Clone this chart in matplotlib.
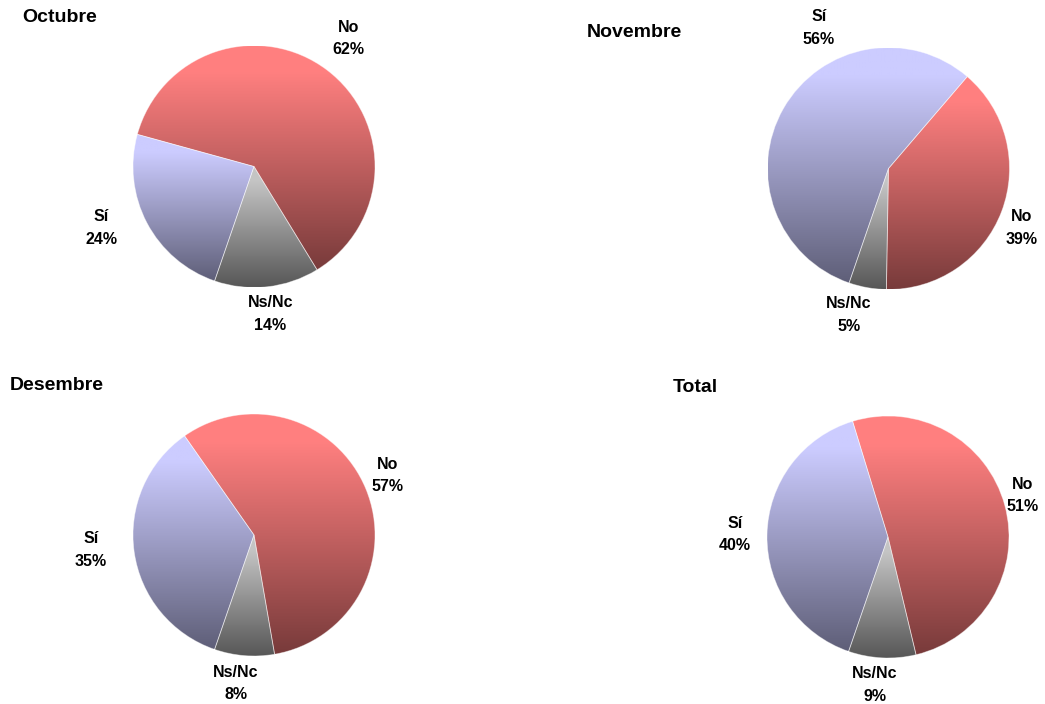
import numpy as np
import matplotlib
matplotlib.use('Agg')
import matplotlib.pyplot as plt

plt.rcParams['font.family'] = ['Liberation Sans', 'DejaVu Sans']

# ---- data ----
titles = ['Octubre', 'Novembre', 'Desembre', 'Total']
categories = ['Ns/Nc', 'No', 'Sí']
ns_nc = [14, 5, 8, 9]
no = [62, 39, 57, 51]
si = [24, 56, 35, 40]

# ---- styling / layout ----
W, H = 1045, 704
R = 121
centers = [(254, 166.5), (888.5, 168.5), (254, 535), (888, 537)]
title_pos = [(22, 17), (587, 32.5), (10, 385), (673, 388)]
# label centre positions (pixels) in category order Ns/Nc, No, Sí
label_pos = [
    [(270.5, 314), (348.5, 38.5), (101, 228)],
    [(849, 315), (1021.5, 228), (819, 28)],
    [(236, 683.5), (388, 475.5), (91, 550)],
    [(875, 685), (1023, 495.5), (735, 534.5)],
]
light = {'Ns/Nc': (0.77, 0.77, 0.77), 'No': (1.0, 0.50, 0.50), 'Sí': (0.80, 0.80, 1.0)}
dark = {'Ns/Nc': (0.34, 0.34, 0.34), 'No': (0.47, 0.23, 0.23), 'Sí': (0.37, 0.37, 0.47)}

fig = plt.figure(figsize=(W / 100, H / 100), dpi=100)
fig.patch.set_facecolor('white')

s = np.linspace(0, 1, 256)
t = np.clip((s - 0.12) / 0.88, 0, 1)[:, None, None]

for i, title in enumerate(titles):
    cx, cy = centers[i]
    ax = fig.add_axes([(cx - R) / W, 1 - (cy + R) / H, 2 * R / W, 2 * R / H])
    vals = [ns_nc[i], no[i], si[i]]
    wedges, _ = ax.pie(vals, startangle=251, counterclock=True, radius=1,
                       wedgeprops=dict(facecolor='none', edgecolor=(1, 1, 1, 0.45),
                                       linewidth=0.6, zorder=3))
    for w, cat in zip(wedges, categories):
        ext = w.get_path().transformed(w.get_patch_transform()).get_extents()
        lo = np.array(light[cat])[None, None, :]
        hi = np.array(dark[cat])[None, None, :]
        grad = lo * (1 - t) + hi * t
        im = ax.imshow(grad, extent=[ext.x0, ext.x1, ext.y0, ext.y1], origin='upper',
                       aspect='auto', zorder=1, interpolation='bilinear')
        im.set_clip_path(w)
    ax.set_xlim(-1, 1)
    ax.set_ylim(-1, 1)
    ax.set_axis_off()

    tx, ty = title_pos[i]
    fig.text(tx / W, 1 - ty / H, title, fontsize=14, fontweight='bold',
             ha='left', va='center')
    for j, cat in enumerate(categories):
        lx, ly = label_pos[i][j]
        fig.text(lx / W, 1 - ly / H, f'{cat}\n{vals[j]}%', fontsize=11.5,
                 fontweight='bold', ha='center', va='center', linespacing=1.65)

fig.savefig('out.png', dpi=100, facecolor='white')
